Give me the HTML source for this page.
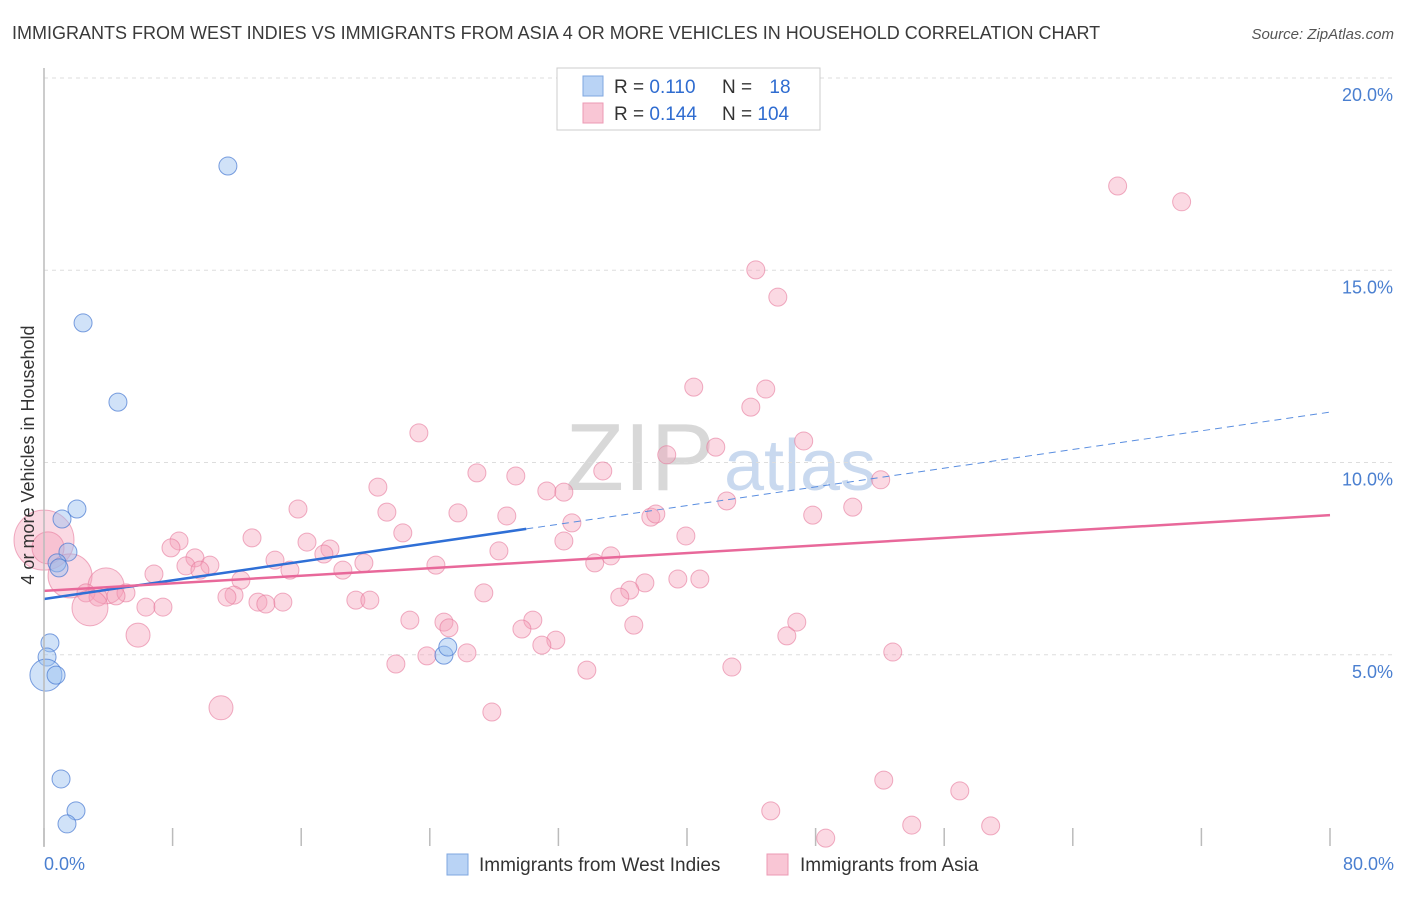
<!DOCTYPE html>
<html><head><meta charset="utf-8"><style>
body{margin:0;background:#fff;font-family:"Liberation Sans",sans-serif;}
svg text{font-family:"Liberation Sans",sans-serif;}
</style></head><body>
<svg id="chart" width="1406" height="892" viewBox="0 0 1406 892">
<text x="12" y="39" font-size="18" fill="#3a3a3a">IMMIGRANTS FROM WEST INDIES VS IMMIGRANTS FROM ASIA 4 OR MORE VEHICLES IN HOUSEHOLD CORRELATION CHART</text>
<text x="1394" y="39" font-size="15" fill="#555" text-anchor="end" font-style="italic">Source: ZipAtlas.com</text>
<text x="640" y="490" font-size="96" fill="#d8d8d8" text-anchor="middle" font-family="Liberation Serif">ZIP</text>
<text x="800" y="490" font-size="72" fill="#c9d9ef" text-anchor="middle">atlas</text>
<g id="grid"></g><g id="ticks"></g><g id="points"></g><g id="trends"></g>
<line x1="44" y1="68" x2="44" y2="847" stroke="#bbb" stroke-width="1.5"/>
<text transform="translate(34,455) rotate(-90)" font-size="18" fill="#333" text-anchor="middle">4 or more Vehicles in Household</text>
<text x="44" y="870" font-size="18" fill="#4a7fd0">0.0%</text>
<text x="1394" y="870" font-size="18" fill="#4a7fd0" text-anchor="end">80.0%</text>
<g>
<rect x="557" y="68" width="263" height="62" fill="#fff" stroke="#ccc"/>
<rect x="583" y="76" width="20" height="20" fill="#b9d3f5" stroke="#7fa7e0"/>
<rect x="583" y="103" width="20" height="20" fill="#f9c6d5" stroke="#ec9ab4"/>
<text x="614" y="93" font-size="19" fill="#333">R = <tspan fill="#2f6cd0">0.110</tspan></text>
<text x="722" y="93" font-size="19" fill="#333">N = <tspan fill="#2f6cd0" dx="12">18</tspan></text>
<text x="614" y="120" font-size="19" fill="#333">R = <tspan fill="#2f6cd0">0.144</tspan></text>
<text x="722" y="120" font-size="19" fill="#333">N = <tspan fill="#2f6cd0">104</tspan></text>
</g>
<g>
<rect x="447" y="854" width="21" height="21" fill="#b9d3f5" stroke="#7fa7e0"/>
<text x="479" y="871" font-size="19" fill="#333">Immigrants from West Indies</text>
<rect x="767" y="854" width="21" height="21" fill="#f9c6d5" stroke="#ec9ab4"/>
<text x="800" y="871" font-size="19" fill="#333">Immigrants from Asia</text>
</g>
</svg>
<script>
const yTicks=[5,10,15,20];
const yTickLabels=["5.0%","10.0%","15.0%","20.0%"];
const xTicks=[0,8,16,24,32,40,48,56,64,72,80];
const blueX=[11.44,2.43,4.60,2.05,1.12,1.49,0.81,0.93,0.37,0.19,0.12,0.75,24.88,25.12,1.06,1.99,1.43];
const blueY=[17.71,13.63,11.57,8.79,8.53,7.67,7.39,7.26,5.31,4.94,4.47,4.47,4.99,5.20,1.77,0.94,0.60];
const blueR=[9,9,9,9,9,9,9,9,9,9,16,9,9,9,9,9,9];
const pinkX=[66.79,70.77,44.28,45.65,40.42,44.90,43.97,23.32,47.26,41.79,38.74,26.93,34.76,29.35,52.05,20.77,31.28,32.34,42.47,50.31,15.80,21.33,25.75,28.79,37.75,47.82,38.06,32.84,22.32,12.94,39.93,16.36,32.34,8.40,7.90,17.79,28.30,17.41,35.26,9.39,14.37,8.83,10.32,19.90,34.26,24.38,15.30,18.59,9.70,6.84,0,0.25,1.62,12.25,39.43,40.80,37.38,3.86,2.61,36.44,5.10,27.36,3.36,4.48,35.82,11.82,11.38,19.40,20.27,13.31,14.86,13.80,2.86,6.34,7.40,30.41,22.76,24.88,46.83,36.69,25.19,29.73,5.85,46.21,31.84,30.97,52.80,26.31,23.82,21.89,42.79,33.77,11.01,27.86,52.24,56.97,45.21,53.98,58.89,48.63];
const pinkY=[17.19,16.78,15.01,14.30,11.96,11.91,11.44,10.77,10.56,10.40,10.20,9.73,9.78,9.65,9.55,9.36,9.26,9.23,9.00,8.84,8.79,8.71,8.69,8.61,8.58,8.63,8.66,8.43,8.17,8.04,8.09,7.93,7.96,7.96,7.78,7.75,7.70,7.62,7.57,7.52,7.46,7.31,7.33,7.39,7.39,7.33,7.20,7.20,7.20,7.10,7.98,7.78,7.05,6.94,6.97,6.97,6.87,6.79,6.61,6.68,6.61,6.61,6.50,6.53,6.50,6.55,6.50,6.42,6.42,6.37,6.37,6.32,6.22,6.24,6.24,5.90,5.90,5.85,5.85,5.77,5.70,5.67,5.51,5.49,5.38,5.25,5.07,5.05,4.97,4.76,4.68,4.60,3.62,3.51,1.74,1.46,0.94,0.57,0.55,0.23];
const pinkBig={50:30,52:22,57:18,72:18,82:12,92:12,51:16};
const blueTrend=[6.45,11.31];
const blueSolidEnd=30;
const pinkTrend=[6.66,8.63];
const NS='http://www.w3.org/2000/svg';
function sx(v){return 44+v*(1330-44)/80;}
function sy(v){return 847-v*(847-78)/20;}
function mk(tag,attrs,parent){const e=document.createElementNS(NS,tag);for(const k in attrs)e.setAttribute(k,attrs[k]);parent.appendChild(e);return e;}
const grid=document.getElementById('grid'),ticks=document.getElementById('ticks'),pts=document.getElementById('points'),tr=document.getElementById('trends');
yTicks.forEach((t,i)=>{
 const l=mk('line',{x1:44,x2:1394,y1:sy(t),y2:sy(t),stroke:'#ddd','stroke-dasharray':'4,4'},grid);
 
 
 const tx=mk('text',{x:1393,y:sy(t)+23,'font-size':18,fill:'#4a7fd0','text-anchor':'end'},grid);
 tx.textContent=yTickLabels[i];
 
 
});
xTicks.forEach(t=>{
 const l=mk('line',{x1:sx(t),x2:sx(t),y1:828,y2:846,stroke:'#bbb','stroke-width':1.5},ticks);
 
 
});
pinkX.forEach((x,i)=>{
 const c=mk('circle',{cx:sx(x),cy:sy(pinkY[i]),r:pinkBig[i]||9,fill:'rgba(244,160,185,0.4)',stroke:'rgba(230,120,155,0.6)','stroke-width':1},pts);
 
 
});
blueX.forEach((x,i)=>{
 const c=mk('circle',{cx:sx(x),cy:sy(blueY[i]),r:blueR[i],fill:'rgba(150,190,240,0.45)',stroke:'rgba(70,120,210,0.7)','stroke-width':1},pts);
 
 
});
function lin(a,x){return a[0]+(a[1]-a[0])*x/80;}
let l=mk('line',{x1:sx(0),y1:sy(lin(blueTrend,0)),x2:sx(blueSolidEnd),y2:sy(lin(blueTrend,blueSolidEnd)),stroke:'#2f6fd6','stroke-width':2.5},tr);


l=mk('line',{x1:sx(blueSolidEnd),y1:sy(lin(blueTrend,blueSolidEnd)),x2:sx(80),y2:sy(lin(blueTrend,80)),stroke:'#5a8ee0','stroke-width':1,'stroke-dasharray':'7,5'},tr);


l=mk('line',{x1:sx(0),y1:sy(lin(pinkTrend,0)),x2:sx(80),y2:sy(lin(pinkTrend,80)),stroke:'#e8689a','stroke-width':2.5},tr);


</script>
</body></html>
